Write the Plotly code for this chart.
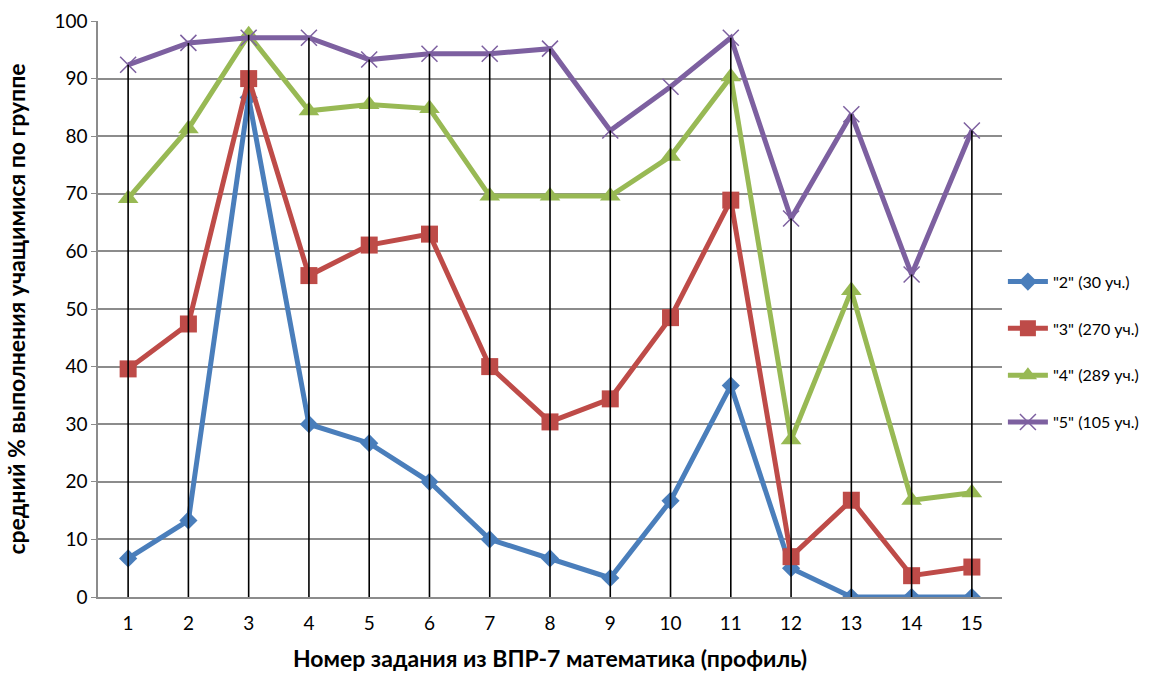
import plotly.graph_objects as go

tasks = list(range(1, 16))
tick_labels = [str(t) for t in tasks]

names = ['"2" (30 уч.)', '"3" (270 уч.)', '"4" (289 уч.)', '"5" (105 уч.)']
s2 = [6.7, 13.3, 86.7, 30.0, 26.7, 20.0, 10.0, 6.7, 3.3, 16.7, 36.7, 5.0, 0.0, 0.0, 0.0]
s3 = [39.6, 47.4, 90.0, 55.8, 61.1, 63.0, 40.0, 30.4, 34.4, 48.5, 68.9, 7.0, 16.8, 3.7, 5.2]
s4 = [69.2, 81.3, 97.6, 84.4, 85.5, 84.8, 69.6, 69.6, 69.6, 76.5, 90.3, 27.3, 53.2, 16.8, 18.1]
s5 = [92.4, 96.2, 97.1, 97.1, 93.3, 94.3, 94.3, 95.2, 81.0, 88.6, 97.1, 65.7, 83.8, 56.0, 81.0]

colors = ["#4A7EBB", "#BE4B48", "#98B954", "#7D60A0"]
symbols = ["diamond", "square", "triangle-up", "x-thin"]
sizes = [14, 17, 18, 16]

fig = go.Figure()
for i, (nm, vals) in enumerate(zip(names, [s2, s3, s4, s5])):
    marker = dict(symbol=symbols[i], size=sizes[i], color=colors[i])
    if symbols[i] == "x-thin":
        marker["line"] = dict(color=colors[i], width=1.5)
    fig.add_trace(go.Scatter(
        x=tasks, y=vals, name=nm, mode="lines+markers",
        line=dict(color=colors[i], width=5),
        marker=marker, legendgroup=nm,
    ))

# drop lines from highest point to axis
dx, dy = [], []
for j, t in enumerate(tasks):
    top = max(s2[j], s3[j], s4[j], s5[j])
    dx += [t, t, None]
    dy += [0, top, None]
fig.add_trace(go.Scatter(x=dx, y=dy, mode="lines", line=dict(color="black", width=1.6),
                         showlegend=False, hoverinfo="skip"))

fig.update_layout(
    width=1156, height=675,
    margin=dict(l=98, r=154, t=21, b=78),
    plot_bgcolor="white", paper_bgcolor="white",
    font=dict(family="Lato, 'Open Sans', sans-serif", color="black", size=16),
    showlegend=True,
    legend=dict(x=1.001, y=0.577, xanchor="left", yanchor="top",
                font=dict(size=16), tracegroupgap=23, itemwidth=40,
                bgcolor="rgba(0,0,0,0)"),
    xaxis=dict(
        range=[0.5, 15.5], tickmode="array", tickvals=tasks, ticktext=tick_labels,
        showgrid=False, zeroline=False, showline=True, linecolor="#8c8c8c", linewidth=1.5,
        ticks="", tickfont=dict(size=19), ticklabelstandoff=8, automargin=False,
        title=dict(text="<b>Номер задания из ВПР-7 математика (профиль)</b>",
                   font=dict(size=23), standoff=18),
    ),
    yaxis=dict(
        range=[0, 100], dtick=10, showgrid=True, gridcolor="#8c8c8c", gridwidth=1.5,
        zeroline=False, showline=True, linecolor="#8c8c8c", linewidth=1.5, automargin=False,
        ticks="outside", ticklen=5, tickcolor="#8c8c8c", tickfont=dict(size=19),
        title=dict(text="<b>средний % выполнения учащимися по группе</b>",
                   font=dict(size=23), standoff=22),
    ),
)

fig.write_html("out.html")
